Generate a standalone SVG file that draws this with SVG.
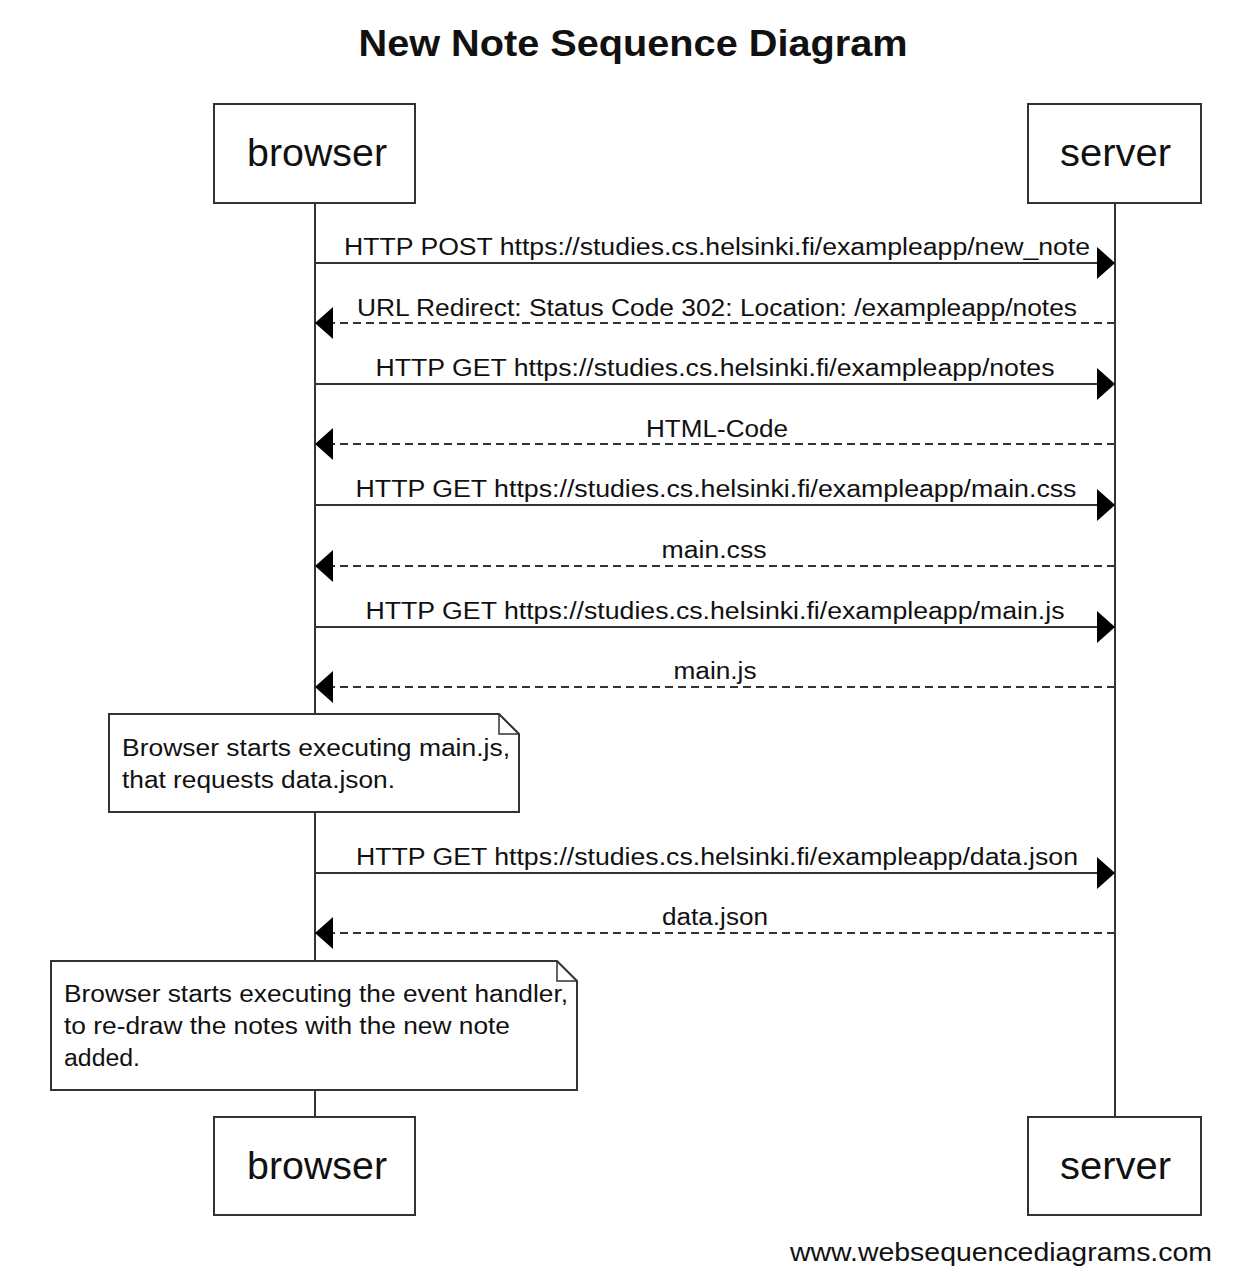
<svg xmlns="http://www.w3.org/2000/svg" width="1248" height="1272" viewBox="0 0 1248 1272">
<style>
.box{fill:#fff;stroke:#333;stroke-width:2}
.life{stroke:#333;stroke-width:2;fill:none}
.msg{stroke:#333;stroke-width:2;fill:none}
.dash{stroke-dasharray:8 5}
.t{font-family:"Liberation Sans",Arial,sans-serif;fill:#111}
.actor{font-size:39px;text-anchor:middle}
.lbl{font-size:23px;text-anchor:middle}
.note{font-size:23px}
</style>
<defs>
<marker id="ah" viewBox="0 0 18 32" refX="18" refY="16" markerWidth="18" markerHeight="32" markerUnits="userSpaceOnUse" orient="auto">
<path d="M0,0 L18,16 L0,32 Z" fill="#000"/>
</marker>
</defs>
<rect width="1248" height="1272" fill="#fff"/>
<text class="t" x="633" y="56" font-size="37" font-weight="bold" text-anchor="middle" textLength="549" lengthAdjust="spacingAndGlyphs">New Note Sequence Diagram</text>
<g id="lifelines">
<line class="life" x1="315" y1="203" x2="315" y2="1117"/>
<line class="life" x1="1115" y1="203" x2="1115" y2="1117"/>
</g>
<g id="connectors">
<line class="msg" x1="315" y1="263" x2="1115" y2="263" marker-end="url(#ah)"/>
<line class="msg dash" x1="1115" y1="323" x2="315" y2="323" marker-end="url(#ah)"/>
<line class="msg" x1="315" y1="384" x2="1115" y2="384" marker-end="url(#ah)"/>
<line class="msg dash" x1="1115" y1="444" x2="315" y2="444" marker-end="url(#ah)"/>
<line class="msg" x1="315" y1="505" x2="1115" y2="505" marker-end="url(#ah)"/>
<line class="msg dash" x1="1115" y1="566" x2="315" y2="566" marker-end="url(#ah)"/>
<line class="msg" x1="315" y1="627" x2="1115" y2="627" marker-end="url(#ah)"/>
<line class="msg dash" x1="1115" y1="687" x2="315" y2="687" marker-end="url(#ah)"/>
<line class="msg" x1="315" y1="873" x2="1115" y2="873" marker-end="url(#ah)"/>
<line class="msg dash" x1="1115" y1="933" x2="315" y2="933" marker-end="url(#ah)"/>
<text class="t lbl" x="717" y="255" textLength="746" lengthAdjust="spacingAndGlyphs">HTTP POST https://studies.cs.helsinki.fi/exampleapp/new_note</text>
<text class="t lbl" x="717" y="316" textLength="720" lengthAdjust="spacingAndGlyphs">URL Redirect: Status Code 302: Location: /exampleapp/notes</text>
<text class="t lbl" x="715" y="376" textLength="679" lengthAdjust="spacingAndGlyphs">HTTP GET https://studies.cs.helsinki.fi/exampleapp/notes</text>
<text class="t lbl" x="717" y="437" textLength="142" lengthAdjust="spacingAndGlyphs">HTML-Code</text>
<text class="t lbl" x="716" y="497" textLength="721" lengthAdjust="spacingAndGlyphs">HTTP GET https://studies.cs.helsinki.fi/exampleapp/main.css</text>
<text class="t lbl" x="714" y="558" textLength="105" lengthAdjust="spacingAndGlyphs">main.css</text>
<text class="t lbl" x="715" y="619" textLength="699" lengthAdjust="spacingAndGlyphs">HTTP GET https://studies.cs.helsinki.fi/exampleapp/main.js</text>
<text class="t lbl" x="715" y="679" textLength="83" lengthAdjust="spacingAndGlyphs">main.js</text>
<text class="t lbl" x="717" y="865" textLength="722" lengthAdjust="spacingAndGlyphs">HTTP GET https://studies.cs.helsinki.fi/exampleapp/data.json</text>
<text class="t lbl" x="715" y="925" textLength="106" lengthAdjust="spacingAndGlyphs">data.json</text>
</g>
<g id="browser-top">
<rect class="box" x="214" y="104" width="201" height="99"/>
<text class="t actor" x="317" y="166" textLength="140" lengthAdjust="spacingAndGlyphs">browser</text>
</g>
<g id="server-top">
<rect class="box" x="1028" y="104" width="173" height="99"/>
<text class="t actor" x="1115.5" y="166" textLength="111" lengthAdjust="spacingAndGlyphs">server</text>
</g>
<g id="note1">
<path class="box" d="M109,714 L499,714 L519,734 L519,812 L109,812 Z"/>
<path d="M499,714 L499,734 L519,734" fill="none" stroke="#333" stroke-width="1.5"/>
<text class="t note" x="122" y="756" textLength="388" lengthAdjust="spacingAndGlyphs">Browser starts executing main.js,</text>
<text class="t note" x="122" y="788" textLength="273" lengthAdjust="spacingAndGlyphs">that requests data.json.</text>
</g>
<g id="note2">
<path class="box" d="M51,961 L557,961 L577,981 L577,1090 L51,1090 Z"/>
<path d="M557,961 L557,981 L577,981" fill="none" stroke="#333" stroke-width="1.5"/>
<text class="t note" x="64" y="1002" textLength="504" lengthAdjust="spacingAndGlyphs">Browser starts executing the event handler,</text>
<text class="t note" x="64" y="1034" textLength="446" lengthAdjust="spacingAndGlyphs">to re-draw the notes with the new note</text>
<text class="t note" x="64" y="1066" textLength="76" lengthAdjust="spacingAndGlyphs">added.</text>
</g>
<g id="browser-bottom">
<rect class="box" x="214" y="1117" width="201" height="98"/>
<text class="t actor" x="317" y="1179" textLength="140" lengthAdjust="spacingAndGlyphs">browser</text>
</g>
<g id="server-bottom">
<rect class="box" x="1028" y="1117" width="173" height="98"/>
<text class="t actor" x="1115.5" y="1179" textLength="111" lengthAdjust="spacingAndGlyphs">server</text>
</g>
<text class="t" x="1212" y="1261" font-size="25" text-anchor="end" textLength="422" lengthAdjust="spacingAndGlyphs">www.websequencediagrams.com</text>
</svg>
